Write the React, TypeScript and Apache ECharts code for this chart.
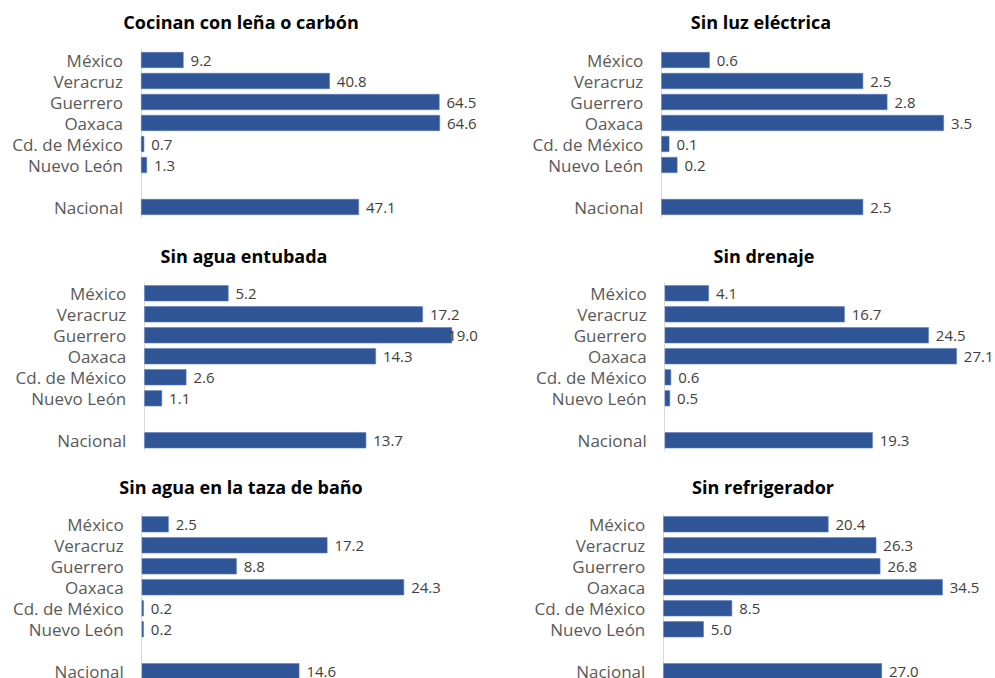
import React, { useEffect, useRef } from "react";
import * as echarts from "echarts";

const categories = ["México", "Veracruz", "Guerrero", "Oaxaca", "Cd. de México", "Nuevo León", "", "Nacional"];

const titles = [
  "Cocinan con leña o carbón",
  "Sin luz eléctrica",
  "Sin agua entubada",
  "Sin drenaje",
  "Sin agua en la taza de baño",
  "Sin refrigerador",
];

const cocinanLena = [9.2, 40.8, 64.5, 64.6, 0.7, 1.3, null, 47.1];
const sinLuz = [0.6, 2.5, 2.8, 3.5, 0.1, 0.2, null, 2.5];
const sinAguaEntubada = [5.2, 17.2, 19.0, 14.3, 2.6, 1.1, null, 13.7];
const sinDrenaje = [4.1, 16.7, 24.5, 27.1, 0.6, 0.5, null, 19.3];
const sinAguaTaza = [2.5, 17.2, 8.8, 24.3, 0.2, 0.2, null, 14.6];
const sinRefrigerador = [20.4, 26.3, 26.8, 34.5, 8.5, 5.0, null, 27.0];

const axisMax = [70, 4, 20, 30, 30, 40];

const seriesValues = [cocinanLena, sinLuz, sinAguaEntubada, sinDrenaje, sinAguaTaza, sinRefrigerador];

const VIEW_H = 678;
const CHART_H = 700; // drawing surface is taller; the bottom panels run past the visible frame
const PLOT_H = 168;

// layout for each panel (grid placement and title anchor)
const layout = [
  { left: 141, top: 49.5, width: 324, tx: 241, ty: 22 },
  { left: 661.3, top: 49.5, width: 323, tx: 761, ty: 22 },
  { left: 144.3, top: 282.8, width: 324, tx: 244, ty: 256 },
  { left: 664.7, top: 282.8, width: 323.4, tx: 764, ty: 256 },
  { left: 141.7, top: 513.8, width: 324, tx: 241, ty: 487 },
  { left: 663.3, top: 513.8, width: 324, tx: 763, ty: 487 },
];

const FONT = "'Open Sans', 'Liberation Sans', sans-serif";

export default function App() {
  const ref = useRef<HTMLDivElement>(null);
  useEffect(() => {
    if (!ref.current) return;
    const chart = echarts.init(ref.current, null, { renderer: "svg" });
    const grids = layout.map((l) => ({
      left: l.left,
      top: l.top,
      width: l.width,
      height: PLOT_H,
      containLabel: false,
    }));
    const xAxes = layout.map((_, i) => ({
      type: "value",
      gridIndex: i,
      min: 0,
      max: axisMax[i],
      show: false,
    }));
    const yAxes = layout.map((_, i) => ({
      type: "category",
      gridIndex: i,
      inverse: true,
      data: categories,
      axisTick: { show: false },
      axisLine: { show: true, lineStyle: { color: "#d9d9d9", width: 1 } },
      axisLabel: {
        margin: 18,
        fontSize: 17,
        lineHeight: 19,
        color: "#595959",
        fontFamily: FONT,
        interval: 0,
        hideOverlap: false,
      },
      splitLine: { show: false },
    }));
    const series = seriesValues.map((vals, i) => ({
      type: "bar",
      xAxisIndex: i,
      yAxisIndex: i,
      barWidth: 16,
      data: vals.map((v, j) => {
        if (v === null) return "-";
        const over = axisMax[i] - v < 1.5 && i === 2 && j === 2;
        return over ? { value: v, label: { distance: -4 } } : v;
      }),
      itemStyle: { color: "#2F5597", borderColor: "#5a7dbd", borderWidth: 0.6 },
      label: {
        show: true,
        position: "right",
        distance: 7,
        fontSize: 15,
        lineHeight: 18,
        color: "#404040",
        fontFamily: FONT,
        formatter: (p: any) => (typeof p.value === "number" ? p.value.toFixed(1) : ""),
      },
    }));
    const graphic = layout.map((l, i) => ({
      type: "text",
      x: l.tx,
      y: l.ty,
      style: {
        text: titles[i],
        align: "center",
        verticalAlign: "middle",
        font: `bold 18px ${FONT}`,
        fill: "#000000",
      },
    }));
    chart.setOption({
      animation: false,
      backgroundColor: "#ffffff",
      grid: grids,
      xAxis: xAxes,
      yAxis: yAxes,
      series,
      graphic,
    } as any);
    return () => chart.dispose();
  }, []);
  return (
    <div
      style={{
        position: "absolute",
        left: 0,
        top: 0,
        width: 995,
        height: VIEW_H,
        overflow: "hidden",
        background: "#fff",
      }}
    >
      <div ref={ref} style={{ width: 995, height: CHART_H }} />
    </div>
  );
}
